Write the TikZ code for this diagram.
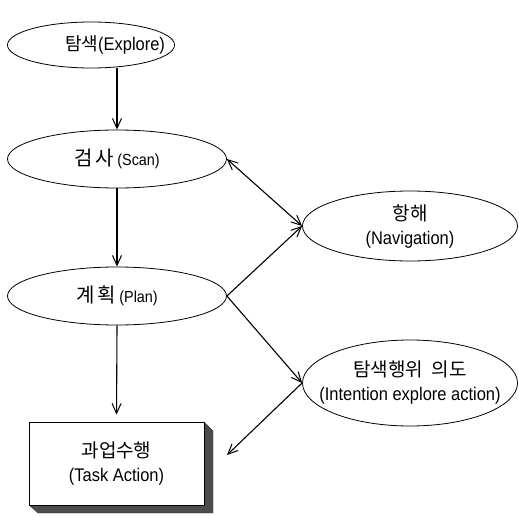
\documentclass[tikz,border=0pt]{standalone}
\usepackage{fontspec}
% narrow-set sans for the Latin words
\setmainfont[FakeStretch=0.9]{Liberation Sans}
\newfontfamily\krfont{Noto Sans CJK KR}
\usetikzlibrary{arrows.meta,shapes.geometric}
% Korean words in the CJK face, at a given size
\newcommand\hangul[2][19]{{\krfont\fontsize{#1}{24}\selectfont #2}}
\begin{document}
\begin{tikzpicture}[x=1pt,y=-1pt,
  oval/.style={ellipse, draw, line width=0.8pt, inner sep=0pt},
  txt/.style={align=center, inner sep=0pt, font=\fontsize{18.3}{24}\selectfont},
  taskbox/.style={rectangle, draw, line width=0.8pt, fill=white, inner sep=0pt,
    align=center, font=\fontsize{18.3}{24}\selectfont},
  barb/.tip={Straight Barb[length=10pt,width=9pt,line width=1pt]},
  flow/.style={-barb, line width=1.1pt},
  both/.style={barb-barb, line width=1.1pt},
  bevel/.style={fill=black!70, draw=black!80, line width=0.4pt}]
\useasboundingbox (0,0) rectangle (519,516);

% left column
\node[oval, minimum width=167pt, minimum height=46pt,
  label={[txt, xshift=24pt]center:\hangul[18]{탐색}(Explore)}] (explore) at (91,45) {};
\node[oval, minimum width=219pt, minimum height=58pt,
  label={[txt]center:\hangul[20]{검\,사}\,{\fontsize{16}{18}\selectfont(Scan)}}] (scan) at (117,159) {};
\node[oval, minimum width=219pt, minimum height=58pt,
  label={[txt]center:\hangul[20]{계\,획}\,{\fontsize{16}{18}\selectfont(Plan)}}] (plan) at (117,296) {};

% task box with its bevelled shadow
\fill[bevel] (204,422) -- (213,431) -- (213,513) -- (38,513) -- (29,505) -- (204,505) -- cycle;
\node[taskbox, minimum width=175pt, minimum height=83pt] (task) at (116.5,463.5)
  {\hangul{과업수행}\\(Task Action)};

% right column
\node[oval, minimum width=215pt, minimum height=70pt,
  label={[txt]center:\hangul{항해}\\(Navigation)}] (nav) at (410,226) {};
\node[oval, minimum width=215pt, minimum height=86pt,
  label={[txt]center:\hangul{탐색행위\ \ 의도}\\(Intention explore action)}] (intent) at (410,383) {};

\coordinate (taskin) at (227,455);

% connectors
\draw[flow] (explore.south -| scan.north) -- (scan.north);
\draw[flow] (scan.south) -- (plan.north);
\draw[flow, shorten >=7pt] (plan.south) -- (task.north);
\draw[both] (scan.east) -- (nav.west);
\draw[flow] (plan.east) -- (nav.west);
\draw[flow] (plan.east) -- (intent.west);
\draw[flow] (intent.west) -- (taskin);
\end{tikzpicture}
\end{document}
